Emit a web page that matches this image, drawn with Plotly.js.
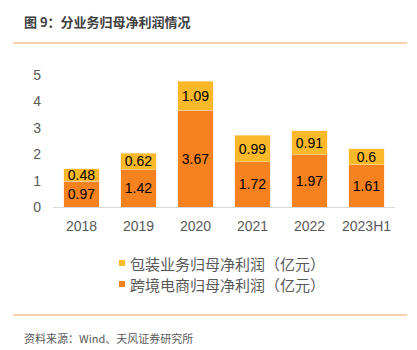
<!DOCTYPE html>
<html><head><meta charset="utf-8">
<script src="https://cdn.plot.ly/plotly-3.0.1.min.js"></script>
<style>html,body{margin:0;padding:0;background:#fff;}#c{width:417px;height:350px;}</style>
</head><body><div id="c"></div>
<script>
var categories = ['2018','2019','2020','2021','2022','2023H1'];
var ecommerce = [0.97, 1.42, 3.67, 1.72, 1.97, 1.61];
var packaging = [0.48, 0.62, 1.09, 0.99, 0.91, 0.6];
var seriesNames = ['跨境电商归母净利润（亿元）', '包装业务归母净利润（亿元）'];
var yTicks = [0,1,2,3,4,5];

var cOrange = '#F5821F', cYellow = '#FBB829';
var numFont = {family:'Liberation Sans, Arial, sans-serif', size:14, color:'#000'};

// paper coordinate helpers (plot area: x 53..395, y 75..207 px)
function px(x){ return (x-53)/342; }
function py(y){ return (207-y)/132; }

var traces = [
 {type:'bar', x:categories, y:ecommerce, name:seriesNames[0], marker:{color:cOrange, line:{color:'#fde3c8', width:0.5}},
  text:ecommerce.map(String), textposition:'inside', insidetextanchor:'middle', constraintext:'none',
  textfont:numFont, hoverinfo:'skip', showlegend:false},
 {type:'bar', x:categories, y:packaging, name:seriesNames[1], marker:{color:cYellow, line:{color:'#fde3c8', width:0.5}},
  text:packaging.map(String), textposition:'inside', insidetextanchor:'middle', constraintext:'none',
  textfont:numFont, hoverinfo:'skip', showlegend:false}
];

var legendFont = {family:'Noto Sans CJK SC, sans-serif', size:15, color:'#595959'};
var legendRows = [{name:seriesNames[1], color:cYellow, y:263}, {name:seriesNames[0], color:cOrange, y:284}];

var shapes = [
  {type:'line', xref:'paper', yref:'paper', x0:px(13), x1:px(407), y0:py(43), y1:py(43), line:{color:'#F7A45A', width:1}},
  {type:'line', xref:'paper', yref:'paper', x0:px(13), x1:px(407), y0:py(315), y1:py(315), line:{color:'#F7A45A', width:1}}
];
var annotations = [
  {text:'<b>图 9：分业务归母净利润情况</b>', xref:'paper', yref:'paper', x:px(22), y:py(22), xanchor:'left', yanchor:'middle', showarrow:false,
   font:{family:'Noto Sans CJK SC, sans-serif', size:13, color:'#404040'}},
  {text:'资料来源：Wind、天风证券研究所', xref:'paper', yref:'paper', x:px(22), y:py(338), xanchor:'left', yanchor:'middle', showarrow:false,
   font:{family:'Noto Sans CJK SC, sans-serif', size:11, color:'#595959'}}
];
legendRows.forEach(function(r){
  shapes.push({type:'rect', xref:'paper', yref:'paper', x0:px(119), x1:px(125), y0:py(r.y-3), y1:py(r.y+3), fillcolor:r.color, line:{width:0}});
  annotations.push({text:r.name, xref:'paper', yref:'paper', x:px(128), y:py(r.y), xanchor:'left', yanchor:'middle', showarrow:false, font:legendFont});
});

var layout = {
 width:417, height:350, margin:{l:53, r:22, t:75, b:143},
 paper_bgcolor:'#fff', plot_bgcolor:'#fff',
 barmode:'stack', bargap:0.37,
 font:{family:'Liberation Sans, Arial, sans-serif', color:'#595959'},
 xaxis:{type:'category', showline:true, linecolor:'#d9d9d9', linewidth:1, ticks:'', showgrid:false,
   tickfont:{family:'Liberation Sans, Arial, sans-serif', size:14, color:'#595959'}, ticklabelstandoff:6, fixedrange:true},
 yaxis:{range:[0,5], tickvals:yTicks, showgrid:false, zeroline:false, showline:false, ticks:'',
   tickfont:{family:'Liberation Sans, Arial, sans-serif', size:14, color:'#595959'}, ticklabelstandoff:11, fixedrange:true},
 showlegend:false,
 shapes:shapes, annotations:annotations
};
Plotly.newPlot('c', traces, layout, {staticPlot:true, displayModeBar:false});
</script></body></html>
